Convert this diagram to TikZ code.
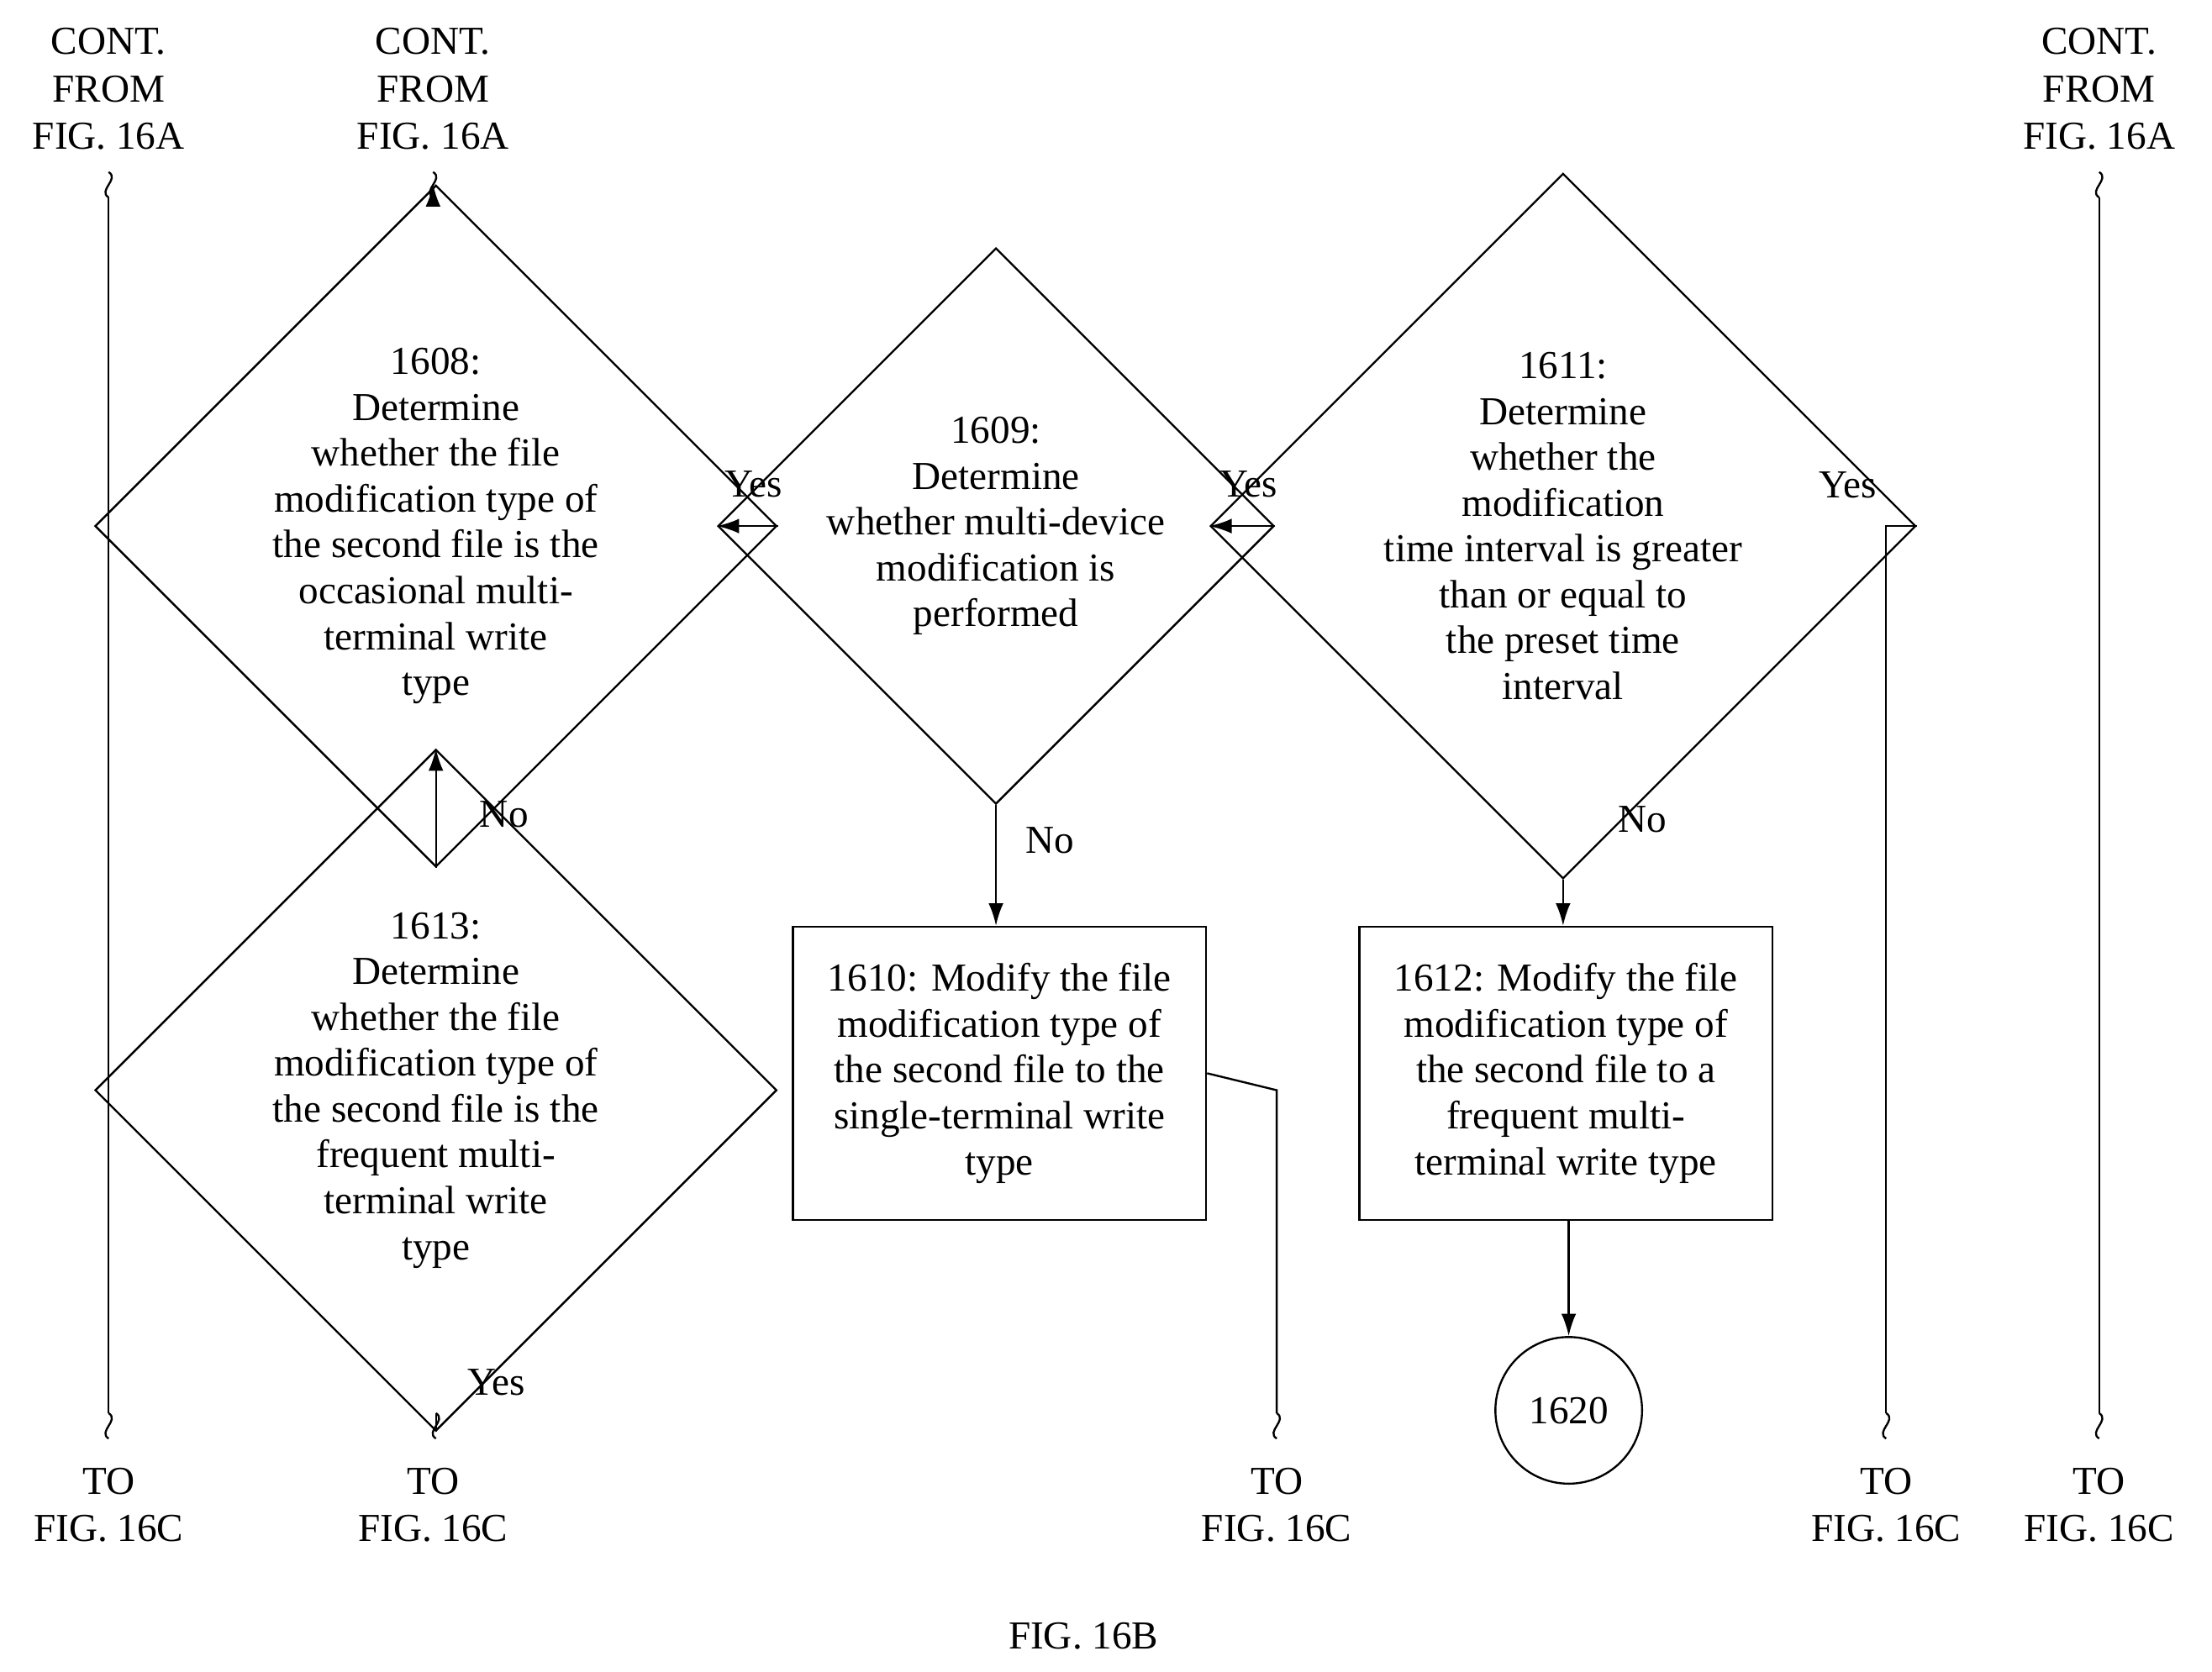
\documentclass[tikz,border=0pt]{standalone}
\usepackage{fontspec}
\setmainfont{Liberation Serif}
\usetikzlibrary{shapes.geometric,arrows.meta}
\begin{document}
\begin{tikzpicture}[x=0.02cm,y=-0.02cm,
  every node/.style={font=\fontsize{16}{18.5}\selectfont},
  dia/.style={draw,thick,diamond,minimum width=7.32cm,minimum height=6.9cm,inner sep=0pt,align=center},
  box/.style={draw,thick,rectangle,minimum width=5.86cm,minimum height=4.16cm,inner sep=0pt,align=center},
  lab/.style={align=center,font=\fontsize{16}{19}\selectfont},
  arr/.style={thick,-{Latex[length=9pt,width=6pt]}},
  ln/.style={thick}]
\useasboundingbox (0,0) rectangle (1568,1185);
\newcommand{\brk}[2]{\draw[thick] (#1,#2-9) .. controls (#1+8,#2-4) and (#1-8,#2+4) .. (#1,#2+9);}
% top labels
\node[lab] (c1) at (77,63) {CONT.\\FROM\\FIG. 16A};
\node[lab] (c2) at (307,63) {CONT.\\FROM\\FIG. 16A};
\node[lab] (c3) at (1488,63) {CONT.\\FROM\\FIG. 16A};
% diamonds
\node[dia] (d1608) at (309,373) {1608:\\Determine\\whether the file\\modification type of\\the second file is the\\occasional multi-\\terminal write\\type};
\node[dia] (d1609) at (706,373) {1609:\\Determine\\whether multi-device\\modification is\\performed};
\node[dia] (d1611) at (1108,373) {1611:\\Determine\\whether the\\modification\\time interval is greater\\than or equal to\\the preset time\\interval};
\node[dia,minimum height=7.06cm] (d1613) at (309,773) {1613:\\Determine\\whether the file\\modification type of\\the second file is the\\frequent multi-\\terminal write\\type};
\node[box] (b1610) at (708.5,761) {1610: Modify the file\\modification type of\\the second file to the\\single-terminal write\\type};
\node[box] (b1612) at (1110,761) {1612: Modify the file\\modification type of\\the second file to a\\frequent multi-\\terminal write type};
\node[draw,thick,circle,minimum size=2.08cm,inner sep=0pt] (c1620) at (1112,1000) {1620};
% bottom labels
\node[lab] (t1) at (77,1067) {TO\\FIG. 16C};
\node[lab] (t2) at (307,1067) {TO\\FIG. 16C};
\node[lab] (t3) at (905,1067) {TO\\FIG. 16C};
\node[lab] (t4) at (1337,1067) {TO\\FIG. 16C};
\node[lab] (t5) at (1488,1067) {TO\\FIG. 16C};
\node[lab] (fig) at (768,1160) {FIG. 16B};
% coordinates
\coordinate (a1) at (77,140); \coordinate (a2) at (77,1002);
\coordinate (p1) at (307,140);
\coordinate (a5) at (1488,140); \coordinate (a6) at (1488,1002);
\coordinate (q1) at (309,1002);
\coordinate (r1) at (905,1002);
\coordinate (s1) at (1337,1002);
% squiggles
\brk{77}{131} \brk{77}{1011}
\brk{307}{131}
\brk{1488}{131} \brk{1488}{1011}
\brk{309}{1011} \brk{905}{1011} \brk{1337}{1011}
% connectors
\draw[ln] (a1) -- (a2);
\draw[ln] (a5) -- (a6);
\draw[arr] (p1) -- (d1608.north -| p1);
\draw[arr] (d1608.east) -- node[above=8pt,pos=0.4]{Yes} (d1609.west);
\draw[arr] (d1609.east) -- node[above=8pt,pos=0.4]{Yes} (d1611.west);
\draw[ln] (d1611.east) -- (1337,373) -- (s1);
\node at (1310,344) {Yes};
\draw[arr] (d1608.south) -- node[right=14pt,pos=0.45]{No} (d1613.north);
\draw[ln] (d1613.south) -- (q1);
\node at (352,980) {Yes};
\draw[arr] (d1609.south) -- (d1609.south |- b1610.north);
\node at (744,596) {No};
\draw[ln] (b1610.east) -- (905,773) -- (r1);
\draw[arr] (d1611.south) -- (d1611.south |- b1612.north);
\node at (1164,581) {No};
\draw[arr] (b1612.south -| c1620) -- (c1620.north);
\end{tikzpicture}
\end{document}
